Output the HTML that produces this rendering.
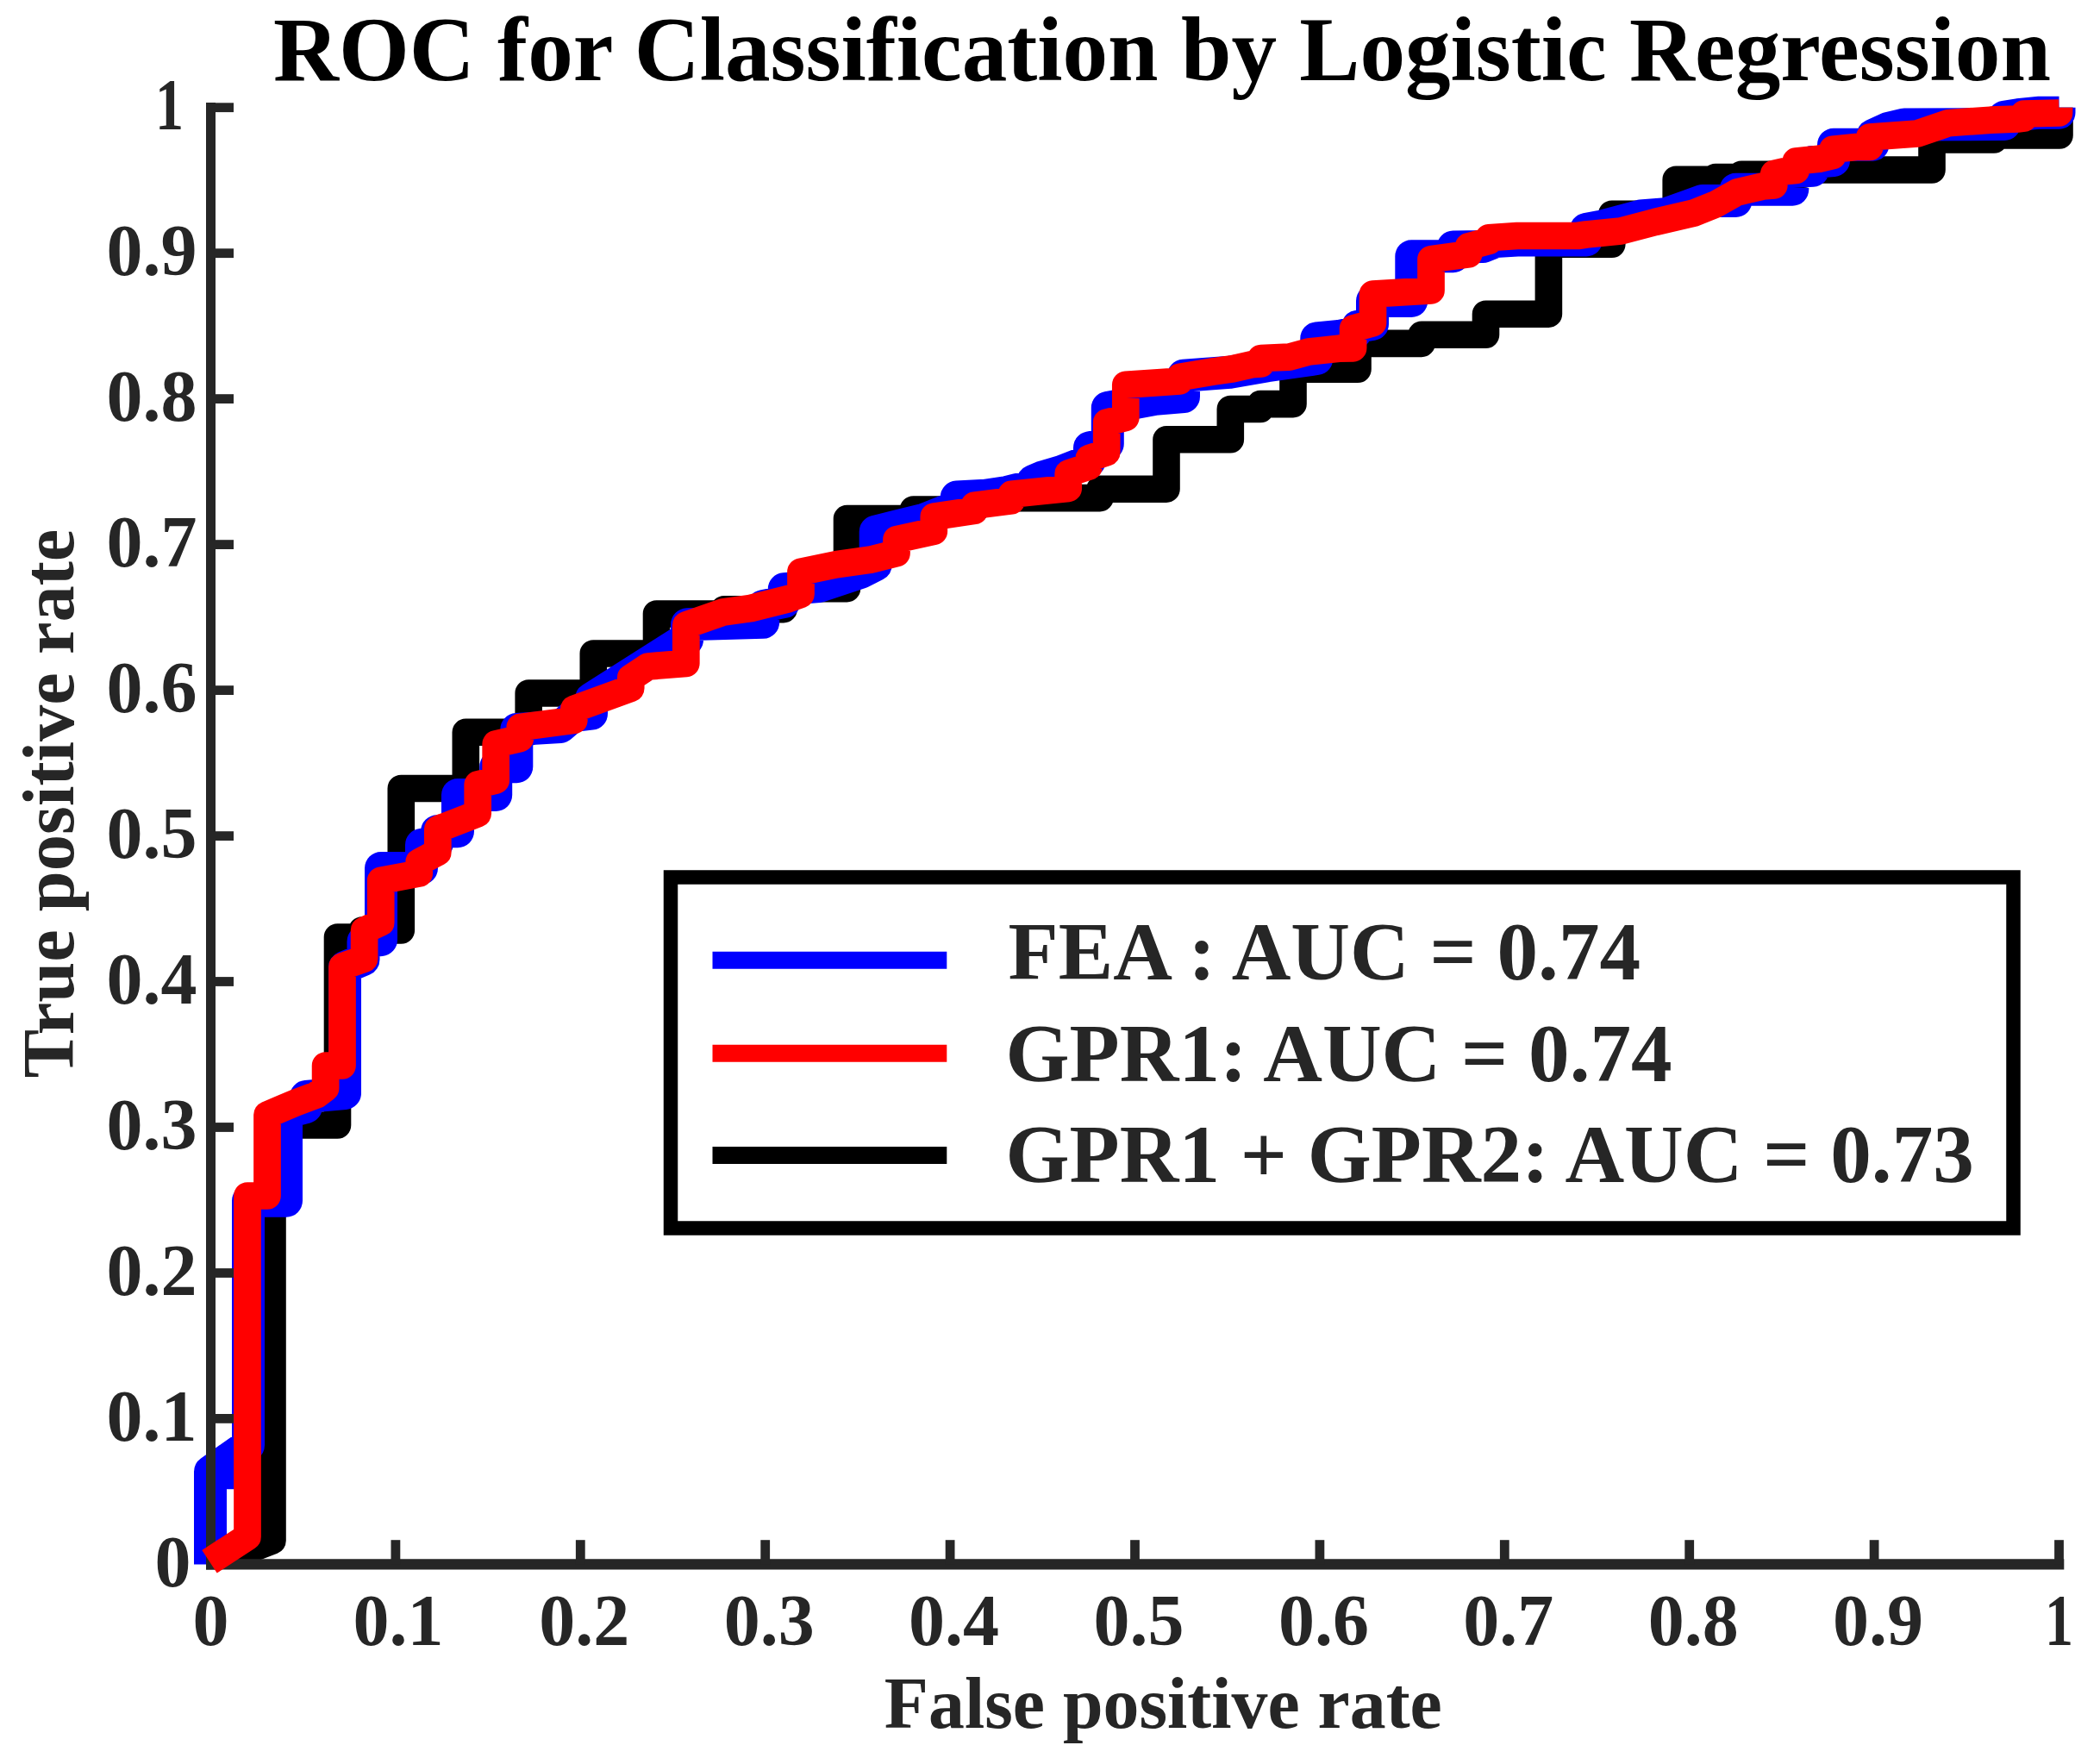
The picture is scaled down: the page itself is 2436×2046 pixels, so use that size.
<!DOCTYPE html><html><head><meta charset="utf-8"><title>ROC for Classification by Logistic Regression</title>
<style>html,body{margin:0;padding:0;background:#fff}svg{display:block}text{font-family:"Liberation Serif","DejaVu Serif",serif;font-weight:bold}</style></head><body>
<svg width="2436" height="2046" viewBox="0 0 2436 2046">
<rect width="2436" height="2046" fill="#fff"/>
<clipPath id="cb"><rect x="0" y="0" width="2436" height="1816"/></clipPath>
<g fill="none" stroke-linejoin="round" stroke-linecap="butt">
<path stroke="#000" stroke-width="31.6" clip-path="url(#cb)" d="M244.5 1814.5 L316.0 1787.0 L316.0 1305.0 L391.5 1305.0 L391.5 1087.0 L420.0 1087.0 L420.0 1079.0 L465.3 1079.0 L465.3 914.5 L540.3 914.5 L540.3 849.3 L613.2 849.3 L613.2 804.0 L688.3 804.0 L688.3 758.0 L761.5 758.0 L761.5 712.0 L840.0 712.0 L840.0 706.7 L909.0 706.7 L909.0 682.6 L982.5 682.6 L982.5 601.6 L1059.5 601.6 L1059.5 591.0 L1131.0 591.0 L1131.0 577.6 L1276.0 577.6 L1276.0 567.2 L1353.0 567.2 L1353.0 509.8 L1427.3 509.8 L1427.3 474.5 L1462.0 474.5 L1462.0 468.6 L1500.0 468.6 L1500.0 428.3 L1575.0 428.3 L1575.0 398.4 L1649.0 398.4 L1649.0 388.3 L1723.5 388.3 L1723.5 364.2 L1796.4 364.2 L1796.4 283.3 L1869.8 283.3 L1869.8 248.2 L1944.2 248.2 L1944.2 208.2 L1990.0 208.2 L1990.0 205.5 L2020.0 205.5 L2020.0 202.3 L2092.0 202.3 L2092.0 197.0 L2241.0 197.0 L2241.0 162.0 L2313.0 162.0 L2313.0 157.0 L2389.0 157.0 L2389.0 124.7"/>
<path stroke="#0000ff" stroke-width="38" d="M244.0 1814.4 L244.0 1707.0 L288.0 1676.0 L288.0 1392.7 L332.0 1392.7 L332.0 1290.0 L355.0 1284.0 L355.0 1272.0 L400.0 1268.0 L400.0 1122.0 L421.5 1113.0 L421.5 1092.0 L442.0 1090.0 L442.0 1007.0 L489.0 1007.0 L489.0 980.0 L507.0 978.0 L507.0 964.3 L531.0 964.3 L531.0 922.0 L575.2 922.0 L575.2 889.3 L599.3 889.3 L599.3 846.0 L650.0 843.0 L665.0 830.0 L686.0 827.7 L686.0 810.5 L790.0 744.5 L797.0 742.0 L797.0 724.3 L885.2 721.8 L885.2 703.0 L909.8 698.0 L909.8 683.2 L950.0 680.0 L998.0 664.0 L1015.7 655.0 L1015.7 616.7 L1040.5 610.3 L1072.0 602.7 L1109.8 587.8 L1109.8 576.5 L1143.0 574.8 L1168.0 571.0 L1180.0 568.0 L1198.2 566.0 L1198.2 558.0 L1210.0 553.2 L1232.0 546.8 L1264.0 534.3 L1264.0 519.3 L1284.8 514.8 L1284.8 473.0 L1340.0 462.7 L1373.0 460.0 L1373.0 435.7 L1426.7 431.8 L1470.0 424.3 L1500.0 420.0 L1527.3 416.0 L1527.3 392.3 L1553.0 390.0 L1572.0 386.0 L1575.0 378.7 L1592.0 376.0 L1592.0 349.0 L1637.3 349.0 L1637.3 297.3 L1685.7 297.3 L1685.7 286.5 L1720.0 286.0 L1735.0 280.0 L1760.0 278.5 L1840.0 278.5 L1840.0 266.0 L1856.0 263.0 L1903.0 250.5 L1932.0 248.3 L1960.0 238.3 L1975.0 233.0 L2013.5 233.0 L2013.5 219.8 L2079.3 219.8 L2079.3 199.0 L2102.7 197.7 L2102.7 188.0 L2127.0 186.0 L2127.0 167.7 L2172.5 167.7 L2172.5 157.0 L2190.0 149.0 L2209.0 144.5 L2325.0 144.0 L2325.0 135.7 L2341.0 133.2 L2366.0 130.7 L2388.5 130.7 L2388.5 124.7 M244 1708.3 L280 1708.3"/>
</g>
<g stroke="#262626" fill="none" stroke-linecap="butt">
<line x1="244.5" y1="119" x2="244.5" y2="1820.6" stroke-width="11"/>
<line x1="239" y1="1814.4" x2="2394.3" y2="1814.4" stroke-width="12.4"/>
<line x1="458.9" y1="1786.2" x2="458.9" y2="1814.4" stroke-width="10.8"/>
<line x1="244.5" y1="1645.4" x2="271" y2="1645.4" stroke-width="10.8"/>
<line x1="673.3" y1="1786.2" x2="673.3" y2="1814.4" stroke-width="10.8"/>
<line x1="244.5" y1="1476.5" x2="271" y2="1476.5" stroke-width="10.8"/>
<line x1="887.7" y1="1786.2" x2="887.7" y2="1814.4" stroke-width="10.8"/>
<line x1="244.5" y1="1307.5" x2="271" y2="1307.5" stroke-width="10.8"/>
<line x1="1102.1" y1="1786.2" x2="1102.1" y2="1814.4" stroke-width="10.8"/>
<line x1="244.5" y1="1138.5" x2="271" y2="1138.5" stroke-width="10.8"/>
<line x1="1316.5" y1="1786.2" x2="1316.5" y2="1814.4" stroke-width="10.8"/>
<line x1="244.5" y1="969.6" x2="271" y2="969.6" stroke-width="10.8"/>
<line x1="1530.9" y1="1786.2" x2="1530.9" y2="1814.4" stroke-width="10.8"/>
<line x1="244.5" y1="800.6" x2="271" y2="800.6" stroke-width="10.8"/>
<line x1="1745.3" y1="1786.2" x2="1745.3" y2="1814.4" stroke-width="10.8"/>
<line x1="244.5" y1="631.6" x2="271" y2="631.6" stroke-width="10.8"/>
<line x1="1959.7" y1="1786.2" x2="1959.7" y2="1814.4" stroke-width="10.8"/>
<line x1="244.5" y1="462.6" x2="271" y2="462.6" stroke-width="10.8"/>
<line x1="2174.1" y1="1786.2" x2="2174.1" y2="1814.4" stroke-width="10.8"/>
<line x1="244.5" y1="293.7" x2="271" y2="293.7" stroke-width="10.8"/>
<line x1="2388.5" y1="1786.2" x2="2388.5" y2="1814.4" stroke-width="10.8"/>
<line x1="244.5" y1="124.7" x2="271" y2="124.7" stroke-width="10.8"/>
</g>
<path fill="none" stroke-linejoin="round" stroke-linecap="butt" stroke="#ff0000" stroke-width="31.7" d="M243.0 1811.3 L287.0 1782.5 L287.0 1387.0 L310.0 1387.0 L310.0 1293.0 L343.0 1279.0 L367.0 1270.0 L377.6 1262.0 L377.6 1236.0 L397.0 1236.0 L397.0 1121.0 L422.6 1112.0 L422.6 1079.0 L441.7 1070.0 L441.7 1021.3 L486.2 1013.0 L486.2 1000.0 L507.8 988.5 L507.8 961.7 L554.2 943.8 L554.2 910.0 L575.2 905.0 L575.2 863.0 L603.3 856.5 L603.3 843.5 L665.8 835.4 L665.8 822.4 L731.7 798.3 L731.7 786.3 L751.7 773.0 L795.8 769.4 L795.8 725.0 L838.8 710.0 L871.0 705.5 L915.0 694.5 L929.0 689.3 L929.0 663.3 L970.0 654.7 L1009.0 649.3 L1040.0 641.7 L1040.0 625.7 L1083.3 616.2 L1083.3 599.2 L1130.3 592.3 L1130.3 586.3 L1173.3 580.8 L1173.3 573.3 L1212.0 569.3 L1239.2 566.5 L1239.2 549.0 L1263.3 541.0 L1263.3 531.5 L1283.7 524.7 L1283.7 490.0 L1305.8 484.3 L1305.8 446.3 L1347.0 443.5 L1368.3 442.0 L1368.3 437.5 L1407.0 431.0 L1430.0 427.7 L1452.0 422.8 L1462.8 422.0 L1462.8 415.5 L1495.0 414.2 L1518.0 408.0 L1553.0 404.2 L1569.6 403.8 L1569.6 381.0 L1592.5 374.7 L1592.5 341.0 L1660.0 337.0 L1660.0 300.6 L1703.7 294.7 L1703.7 285.7 L1727.0 279.5 L1727.0 275.8 L1760.0 273.5 L1830.0 273.5 L1840.0 272.0 L1880.0 268.0 L1920.0 257.5 L1965.0 247.0 L1990.0 237.0 L2015.0 223.0 L2045.0 216.0 L2057.8 215.0 L2057.8 201.5 L2070.0 198.7 L2083.3 197.5 L2083.3 187.0 L2110.0 184.2 L2126.0 180.6 L2126.0 173.2 L2153.0 170.5 L2168.8 170.5 L2168.8 159.0 L2224.0 155.0 L2260.0 142.7 L2309.0 139.2 L2340.0 138.0 L2347.7 137.0 L2347.7 132.0 L2388.5 131.0 L2388.5 124.7"/>
<g fill="#262626" font-size="84">
<text x="244.5" y="1908.3" text-anchor="middle">0</text>
<text x="461.9" y="1908.3" text-anchor="middle">0.1</text>
<text x="677.8" y="1908.3" text-anchor="middle">0.2</text>
<text x="892.2" y="1908.3" text-anchor="middle">0.3</text>
<text x="1106.6" y="1908.3" text-anchor="middle">0.4</text>
<text x="1321.0" y="1908.3" text-anchor="middle">0.5</text>
<text x="1535.4" y="1908.3" text-anchor="middle">0.6</text>
<text x="1749.8" y="1908.3" text-anchor="middle">0.7</text>
<text x="1964.2" y="1908.3" text-anchor="middle">0.8</text>
<text x="2178.6" y="1908.3" text-anchor="middle">0.9</text>
<text x="2388.5" y="1908.3" text-anchor="middle" textLength="33" lengthAdjust="spacingAndGlyphs">1</text>
<text x="221.5" y="1840.0" text-anchor="end">0</text>
<text x="228.5" y="1671.0" text-anchor="end">0.1</text>
<text x="228.5" y="1502.1" text-anchor="end">0.2</text>
<text x="228.5" y="1333.1" text-anchor="end">0.3</text>
<text x="228.5" y="1164.1" text-anchor="end">0.4</text>
<text x="228.5" y="995.2" text-anchor="end">0.5</text>
<text x="228.5" y="826.2" text-anchor="end">0.6</text>
<text x="228.5" y="657.2" text-anchor="end">0.7</text>
<text x="228.5" y="488.2" text-anchor="end">0.8</text>
<text x="228.5" y="319.3" text-anchor="end">0.9</text>
<text x="213.0" y="150.3" text-anchor="end" textLength="33" lengthAdjust="spacingAndGlyphs">1</text>
</g>
<text x="1349.3" y="2004" text-anchor="middle" font-size="83.8" fill="#262626">False positive rate</text>
<text transform="translate(85.3,932) rotate(-90)" text-anchor="middle" font-size="84.5" fill="#262626">True positive rate</text>
<text x="1348" y="93" text-anchor="middle" font-size="105.2" fill="#000">ROC for Classification by Logistic Regression</text>
<rect x="778" y="1017.5" width="1557.5" height="407" fill="#fff" stroke="#000" stroke-width="16.5"/>
<line x1="826.5" y1="1113.7" x2="1098.3" y2="1113.7" stroke="#0000ff" stroke-width="20"/>
<line x1="826.5" y1="1221.8" x2="1098.3" y2="1221.8" stroke="#ff0000" stroke-width="20"/>
<line x1="826.5" y1="1339.9" x2="1098.3" y2="1339.9" stroke="#000" stroke-width="20"/>
<g fill="#262626" font-size="95.15">
<text x="1169.6" y="1136">FEA : AUC = 0.74</text>
<text x="1166.6" y="1254">GPR1: AUC = 0.74</text>
<text x="1166.6" y="1371">GPR1 + GPR2: AUC = 0.73</text>
</g>
</svg></body></html>
